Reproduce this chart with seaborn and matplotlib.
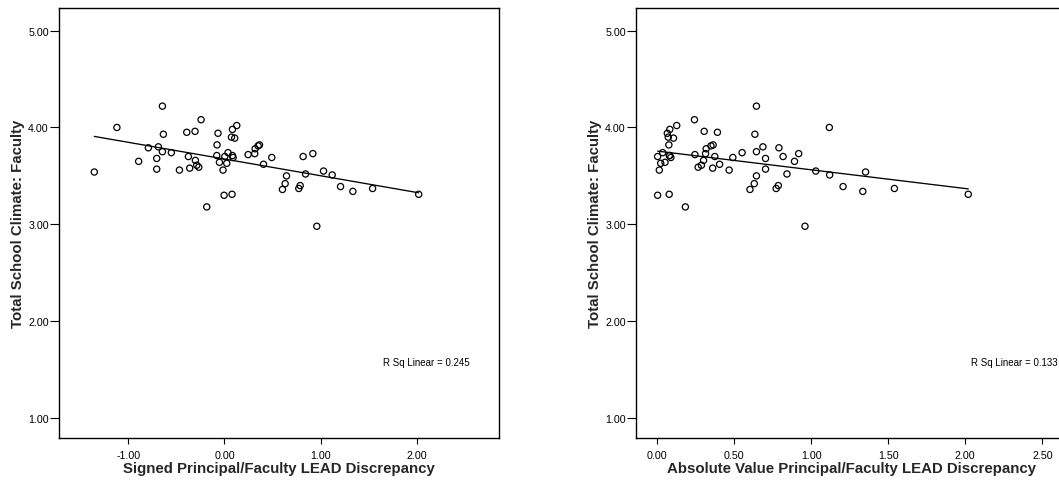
import matplotlib
matplotlib.use("Agg")
import matplotlib.pyplot as plt
import seaborn as sns
import pandas as pd

# ---- data ----
signed_x = [-1.353, -1.118, -0.645, -0.635, -0.791, -0.687, -0.645, -0.552, -0.892, -0.704,
            -0.704, -0.468, -0.392, -0.306, -0.243, -0.375, -0.361, -0.302, -0.288, -0.267,
            -0.184, -0.067, -0.077, -0.080, -0.052, -0.015, 0.004, 0.024, 0.037, -0.004,
            0.079, 0.083, 0.128, 0.073, 0.107, 0.083, 0.090, 0.246, 0.315, 0.319,
            0.350, 0.364, 0.406, 0.492, 0.603, 0.631, 0.645, 0.773, 0.787, 0.818,
            0.843, 0.919, 0.960, 1.030, 1.120, 1.207, 1.335, 1.540, 2.019]
abs_x = [1.353, 1.118, 0.645, 0.635, 0.791, 0.687, 0.645, 0.552, 0.892, 0.704,
         0.704, 0.468, 0.392, 0.306, 0.243, 0.375, 0.361, 0.302, 0.288, 0.267,
         0.184, 0.067, 0.077, 0.080, 0.052, 0.015, 0.004, 0.024, 0.037, 0.004,
         0.079, 0.083, 0.128, 0.073, 0.107, 0.083, 0.090, 0.246, 0.315, 0.319,
         0.350, 0.364, 0.406, 0.492, 0.603, 0.631, 0.645, 0.773, 0.787, 0.818,
         0.843, 0.919, 0.960, 1.030, 1.120, 1.207, 1.335, 1.540, 2.019]
climate_y = [3.54, 4.00, 4.22, 3.93, 3.79, 3.80, 3.75, 3.74, 3.65, 3.68,
             3.57, 3.56, 3.95, 3.96, 4.08, 3.70, 3.58, 3.66, 3.61, 3.59,
             3.18, 3.94, 3.82, 3.71, 3.64, 3.56, 3.70, 3.63, 3.74, 3.30,
             3.31, 3.98, 4.02, 3.90, 3.89, 3.71, 3.69, 3.72, 3.73, 3.78,
             3.81, 3.82, 3.62, 3.69, 3.36, 3.42, 3.50, 3.37, 3.40, 3.70,
             3.52, 3.73, 2.98, 3.55, 3.51, 3.39, 3.34, 3.37, 3.31]

y_ticks = [1, 2, 3, 4, 5]
y_tick_labels = ["1.00", "2.00", "3.00", "4.00", "5.00"]
left_ticks = [-1, 0, 1, 2]
left_tick_labels = ["-1.00", "0.00", "1.00", "2.00"]
right_ticks = [0, 0.5, 1.0, 1.5, 2.0, 2.5]
right_tick_labels = ["0.00", "0.50", "1.00", "1.50", "2.00", "2.50"]

y_label = "Total School Climate: Faculty"
left_x_label = "Signed Principal/Faculty LEAD Discrepancy"
right_x_label = "Absolute Value Principal/Faculty LEAD Discrepancy"
left_rsq = "R Sq Linear = 0.245"
right_rsq = "R Sq Linear = 0.133"

df = pd.DataFrame({"signed": signed_x, "absval": abs_x, "climate": climate_y})

sns.set_style("ticks")
plt.rcParams['font.family'] = ['Liberation Sans', 'DejaVu Sans']

fig = plt.figure(figsize=(10.59, 4.85), dpi=100)
ax1 = fig.add_axes([0.0557, 0.0948, 0.4155, 0.886])
ax2 = fig.add_axes([0.6006, 0.0948, 0.407, 0.886])

panels = [
    (ax1, "signed", left_ticks, left_tick_labels, left_x_label, left_rsq, (-1.72, 2.854), 2.553),
    (ax2, "absval", right_ticks, right_tick_labels, right_x_label, right_rsq, (-0.136, 2.66), 2.597),
]

for ax, col, xt, xtl, xlab, rsq, xlim, rsq_x in panels:
    sns.regplot(data=df, x=col, y="climate", ax=ax, ci=None, color="black",
                scatter_kws=dict(s=20, facecolors="none", edgecolors="black",
                                 linewidths=0.9, alpha=1),
                line_kws=dict(color="black", lw=0.95))
    ax.set_xlim(*xlim)
    ax.set_ylim(0.794, 5.23)
    ax.set_xticks(xt)
    ax.set_xticklabels(xtl)
    ax.set_yticks(y_ticks)
    ax.set_yticklabels(y_tick_labels)
    ax.tick_params(axis="y", length=6.5, pad=0.8, width=0.8, labelsize=7.7, colors="black")
    ax.tick_params(axis="x", length=4.5, pad=4, width=0.8, labelsize=7.7, colors="black")
    for sp in ax.spines.values():
        sp.set_visible(True)
        sp.set_linewidth(1.0)
        sp.set_color("black")
    ax.set_xlabel(xlab, fontsize=10.8, fontweight="bold", labelpad=0.5)
    ax.set_ylabel(y_label, fontsize=10.8, fontweight="bold", labelpad=2)
    ax.text(rsq_x, 1.576, rsq, ha="right", va="center", fontsize=7, color="black")

fig.savefig("out.png", dpi=100)
